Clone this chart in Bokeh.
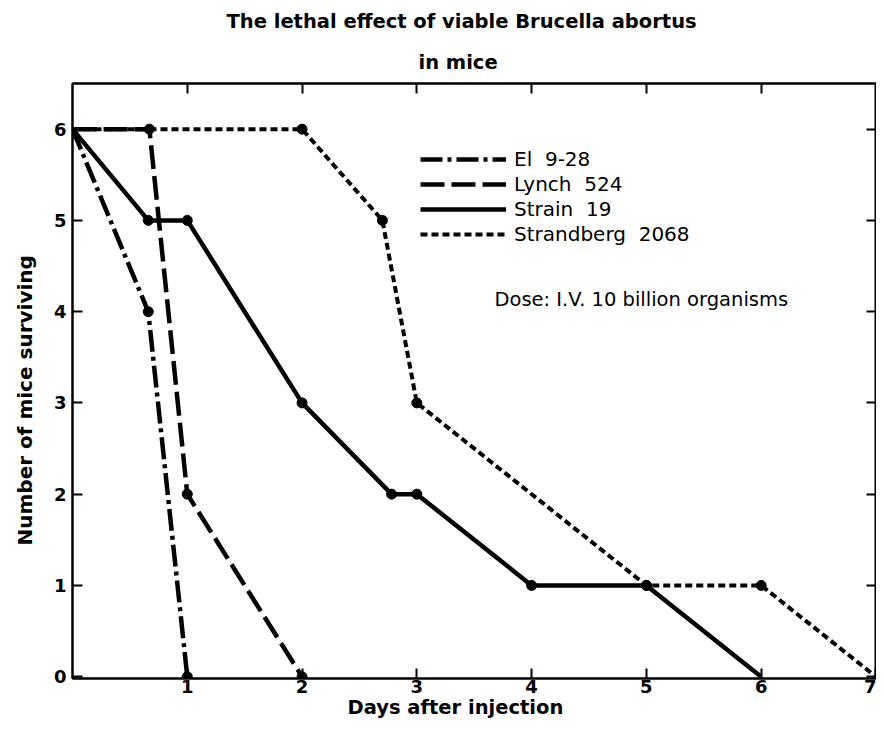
from bokeh.plotting import figure
from bokeh.models import (Range1d, FixedTicker, LinearAxis, Title, Legend, LegendItem,
                          Label, CustomJSTickFormatter)
from bokeh.embed import file_html
from bokeh.resources import INLINE

# ---- data ----
el_days = [0, 0.66, 1.0]
el_mice = [6, 4, 0]

lynch_days = [0, 0.67, 1.0, 2.0]
lynch_mice = [6, 6, 2, 0]

strain_days = [0, 0.66, 1.0, 2.0, 2.78, 3.0, 4.0, 5.0, 6.0]
strain_mice = [6, 5, 5, 3, 2, 2, 1, 1, 0]

strand_days = [0, 2.0, 2.7, 3.0, 5.0, 6.0, 7.0]
strand_mice = [6, 6, 5, 3, 1, 1, 0]

x_ticks = [1, 2, 3, 4, 5, 6, 7]
y_ticks = [0, 1, 2, 3, 4, 5, 6]

series_names = ["El  9-28", "Lynch  524", "Strain  19", "Strandberg  2068"]

FONT = "DejaVu Sans"

p = figure(width=876, height=730, output_backend="svg", toolbar_location=None,
           x_range=Range1d(0, 7.005), y_range=Range1d(-0.02, 6.5),
           min_border_left=72, min_border_right=0, min_border_bottom=52, min_border_top=83)

p.background_fill_color = "white"
p.border_fill_color = "white"
p.outline_line_color = "black"
p.outline_line_width = 2
p.xgrid.visible = False
p.ygrid.visible = False

# bottom / left axes (created by figure)
xa = p.below[0]
ya = p.left[0]

blank = CustomJSTickFormatter(code="return ''")
# top axis: ticks only (closest to frame, so added first)
top = LinearAxis(ticker=FixedTicker(ticks=x_ticks[:-1]), formatter=blank,
                 major_tick_in=10, major_tick_out=0, major_tick_line_width=2,
                 minor_tick_line_color=None, axis_line_width=2, major_label_standoff=3)
p.add_layout(top, "above")
right = LinearAxis(ticker=FixedTicker(ticks=y_ticks), formatter=blank,
                   major_tick_in=10, major_tick_out=0, major_tick_line_width=2,
                   minor_tick_line_color=None, axis_line_width=2, major_label_standoff=0)
p.add_layout(right, "right")

# titles (later added ends up farther out)
p.add_layout(Title(text="in mice", align="left", text_font=FONT, text_font_size="19.5px",
                   text_font_style="bold", text_color="black", offset=346, standoff=20), "above")
p.add_layout(Title(text="The lethal effect of viable Brucella abortus", align="left",
                   text_font=FONT, text_font_size="19.5px", text_font_style="bold",
                   text_color="black", offset=154, standoff=12), "above")

xa.ticker = FixedTicker(ticks=x_ticks)
ya.ticker = FixedTicker(ticks=y_ticks)
for ax in (xa, ya):
    ax.axis_line_width = 2
    ax.axis_line_color = "black"
    ax.major_tick_in = 10
    ax.major_tick_out = 0
    ax.major_tick_line_width = 2
    ax.minor_tick_line_color = None
    ax.major_label_text_font = FONT
    ax.major_label_text_font_size = "18px"
    ax.major_label_text_font_style = "bold"
    ax.major_label_text_color = "black"
xa.major_label_standoff = 1
ya.major_label_standoff = 6

# axis titles as side titles so they can be offset like the original
p.add_layout(Title(text="Days after injection", align="left", vertical_align="top",
                   text_font=FONT, text_font_size="19.5px", text_font_style="bold",
                   text_color="black", offset=275, standoff=0), "below")
p.add_layout(Title(text="Number of mice surviving", align="left", vertical_align="top",
                   text_font=FONT, text_font_size="20px", text_font_style="bold",
                   text_color="black", offset=133, standoff=24), "left")

LW = 4.5
r_el = p.line(el_days, el_mice, line_color="black", line_width=LW, line_dash="22 5 4 5")
r_ly = p.line(lynch_days, lynch_mice, line_color="black", line_width=LW, line_dash="24 7")
r_st = p.line(strain_days, strain_mice, line_color="black", line_width=LW)
r_sb = p.line(strand_days, strand_mice, line_color="black", line_width=4, line_dash="7 4")

p.scatter(el_days[1:], el_mice[1:], size=10, marker="circle", color="black")
p.scatter(lynch_days[1:], lynch_mice[1:], size=10, marker="circle", color="black")
p.scatter(strain_days[1:-1], strain_mice[1:-1], size=10, marker="circle", color="black")
p.scatter(strand_days[1:-1], strand_mice[1:-1], size=10, marker="circle", color="black")

legend = Legend(items=[LegendItem(label=series_names[0], renderers=[r_el]),
                       LegendItem(label=series_names[1], renderers=[r_ly]),
                       LegendItem(label=series_names[2], renderers=[r_st]),
                       LegendItem(label=series_names[3], renderers=[r_sb])],
                location=(348, 432), glyph_width=86, glyph_height=20, label_height=20,
                spacing=1, padding=0, margin=0, label_standoff=8,
                border_line_color=None, background_fill_alpha=0,
                label_text_font=FONT, label_text_font_size="20px", label_text_color="black")
p.add_layout(legend, "center")

p.add_layout(Label(x=494 - 72, y=678 - 299, x_units="screen", y_units="screen",
                   text="Dose: I.V.  10 billion  organisms", text_font=FONT,
                   text_font_size="19.5px", text_color="black", text_baseline="middle"))

open("out.html", "w").write(file_html(p, INLINE))
